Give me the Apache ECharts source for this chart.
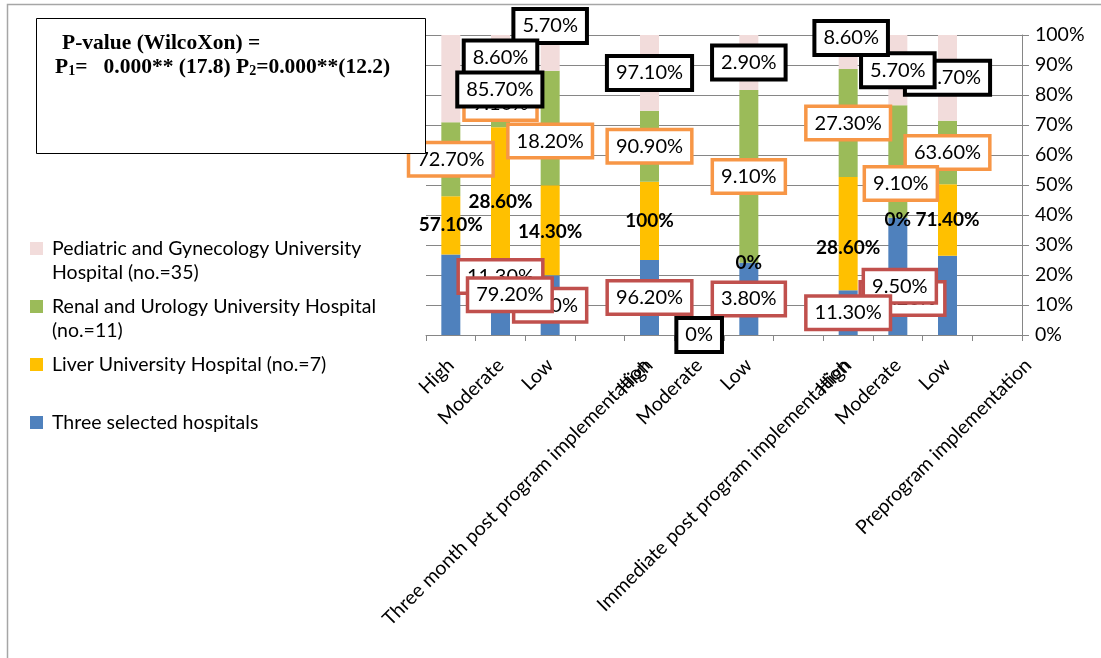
<!DOCTYPE html>
<html>
<head>
<meta charset="utf-8">
<script src="https://cdn.jsdelivr.net/npm/echarts@6/dist/echarts.min.js"></script>
<style>
  html, body { margin: 0; padding: 0; background: #fff; }
  #chart { width: 1101px; height: 658px; }
</style>
</head>
<body>
<div id="chart"></div>
<script>
// Categories along the x axis (three levels per phase, then the phase name)
const categories = [
  'High', 'Moderate', 'Low', 'Three month post program implementation',
  'High', 'Moderate', 'Low', 'Immediate post program implementation',
  'High', 'Moderate', 'Low', 'Preprogram implementation'
];

const seriesNames = [
  'Three selected hospitals',
  'Liver University Hospital (no.=7)',
  'Renal and Urology University Hospital (no.=11)',
  'Pediatric and Gynecology University Hospital (no.=35)'
];

// Percentages per hospital group (null = phase-name slot, no bar)
const threeSelected = [79.2, 11.3, 9.5, null, 96.2, 0, 3.8, null, 11.3, 9.5, 79.2, null];
const liver         = [57.1, 28.6, 14.3, null, 100, 0, 0, null, 28.6, 0, 71.4, null];
const renal         = [72.7, 9.1, 18.2, null, 90.9, 0, 9.1, null, 27.3, 9.1, 63.6, null];
const pediatric     = [85.7, 8.6, 5.7, null, 97.1, 0, 2.9, null, 8.6, 5.7, 85.7, null];

const yTicks = [0, 10, 20, 30, 40, 50, 60, 70, 80, 90, 100];

// ---- layout / styling ----
const FONT = 'Lato';
const colors = ['#4F81BD', '#FFC000', '#9BBB59', '#F2DCDB'];

// hand-placed label nudges [dx, dy] by series, keyed by category index
const labelNudge = [
  { 0: [59, 0], 1: [0, -29], 9: [2, 10], 10: [-45, 3] },
  { 2: [0, 2], 8: [0, 14], 9: [0, 2] },
  { 2: [0, 13], 9: [3, 22] },
  { 0: [49, 11], 2: [0, -27], 8: [3, -14] }
];
// labels not shown (by series, category index)
const hiddenLabels = [[5], [5], [5], []];
// shift of the long phase labels along / across the text direction
const phaseLabelShift = { 3: [33, 23], 7: [34, 24], 11: [22, 12] };

const rawSeries = [threeSelected, liver, renal, pediatric];
const totals = categories.map((_, i) =>
  rawSeries.reduce((s, arr) => s + (arr[i] == null ? 0 : arr[i]), 0));

function share(arr, i) {
  if (arr[i] == null) return '-';
  return totals[i] ? arr[i] / totals[i] * 100 : 0;
}

function fmt(p) {
  const v = p.data.raw;
  return (v === 0 || v === 100) ? v + '%' : v.toFixed(2) + '%';
}

function boxLabel(border, width) {
  return {
    show: true, position: 'inside', color: '#000', fontFamily: FONT, fontSize: 20, lineHeight: 20,
    backgroundColor: '#fff', borderColor: border, borderWidth: width, padding: [5, 7, 5, 7],
    formatter: fmt
  };
}
const boldLabel = {
  show: true, position: 'inside', color: '#000', fontFamily: FONT, fontSize: 19,
  fontWeight: 'bold', formatter: fmt
};
const seriesLabels = [boxLabel('#C0504D', 3.5), boldLabel, boxLabel('#F79646', 3.5), boxLabel('#000', 4)];

// draw right-to-left so that labels of earlier categories sit on top
const order = categories.map((_, i) => categories.length - 1 - i);

const xData = order.map(i => {
  const sh = phaseLabelShift[i];
  if (!sh) return categories[i];
  return { value: categories[i], textStyle: { verticalAlign: 'top', padding: [sh[1], -sh[0], 0, 0] } };
});

const series = rawSeries.map((arr, si) => ({
  type: 'bar',
  name: seriesNames[si],
  stack: 'total',
  barWidth: 19,
  itemStyle: { color: colors[si] },
  label: seriesLabels[si],
  emphasis: { disabled: true },
  data: order.map(i => ({
    value: share(arr, i),
    raw: arr[i],
    label: {
      show: arr[i] != null && hiddenLabels[si].indexOf(i) < 0,
      offset: labelNudge[si][i] || [0, 0]
    }
  }))
}));

const legendWrap = {
  [seriesNames[3]]: ' \nPediatric and Gynecology University\nHospital (no.=35)',
  [seriesNames[2]]: ' \nRenal and Urology University Hospital\n(no.=11)'
};
const legendTops = [[seriesNames[3], 212.5], [seriesNames[2], 270.5], [seriesNames[1], 352.5], [seriesNames[0], 410.5]];

const chart = echarts.init(document.getElementById('chart'), null, { renderer: 'canvas' });
chart.setOption({
  animation: false,
  backgroundColor: '#fff',
  grid: { left: 426, right: 79, top: 35, bottom: 323, containLabel: false },
  xAxis: {
    type: 'category',
    inverse: true,
    data: xData,
    axisLine: { lineStyle: { color: '#868686', width: 1 } },
    axisTick: { show: true, length: 6, lineStyle: { color: '#868686' } },
    axisLabel: { interval: 0, rotate: 45, margin: 27, color: '#000', fontFamily: FONT, fontSize: 19.5, lineHeight: 20 }
  },
  yAxis: {
    type: 'value', position: 'right', min: yTicks[0], max: yTicks[yTicks.length - 1], interval: 10,
    axisLine: { show: true, lineStyle: { color: '#868686' } },
    axisTick: { show: true, length: 7, lineStyle: { color: '#868686' } },
    axisLabel: { formatter: '{value}%', margin: 13, color: '#000', fontFamily: FONT, fontSize: 19.5 },
    splitLine: { show: true, lineStyle: { color: '#868686', width: 1 } }
  },
  legend: legendTops.map(([name, top]) => ({
    orient: 'vertical', left: 30, top: top, padding: 0,
    itemWidth: 13, itemHeight: 13, icon: 'rect',
    data: [name],
    formatter: n => legendWrap[n] || n,
    textStyle: { fontFamily: FONT, fontSize: 19.5, color: '#000', lineHeight: 24, padding: [0, 0, 0, 4] }
  })),
  graphic: [
    { type: 'rect', silent: true, z: -10, shape: { x: 7.5, y: 4.5, width: 1120, height: 680 },
      style: { fill: 'none', stroke: '#A6A6A6', lineWidth: 1.5 } },
    { type: 'rect', silent: true, z: 100, shape: { x: 36.5, y: 18.5, width: 389, height: 135 },
      style: { fill: '#fff', stroke: '#000', lineWidth: 1 } },
    { type: 'text', silent: true, z: 101, x: 62, y: 43,
      style: { text: 'P-value (WilcoXon) =', font: 'bold 21.5px "Liberation Serif"', fill: '#000', verticalAlign: 'middle' } },
    { type: 'text', silent: true, z: 101, x: 55, y: 54,
      style: {
        text: '{m|P}{s|1}{m|=   0.000** (17.8) P}{s|2}{m|=0.000**(12.2)}',
        fill: '#000',
        rich: {
          m: { fontFamily: 'Liberation Serif', fontWeight: 'bold', fontSize: 21.5, lineHeight: 24, verticalAlign: 'bottom' },
          s: { fontFamily: 'Liberation Serif', fontWeight: 'bold', fontSize: 14, lineHeight: 16, verticalAlign: 'bottom' }
        }
      } }
  ],
  series: series
});
</script>
</body>
</html>
